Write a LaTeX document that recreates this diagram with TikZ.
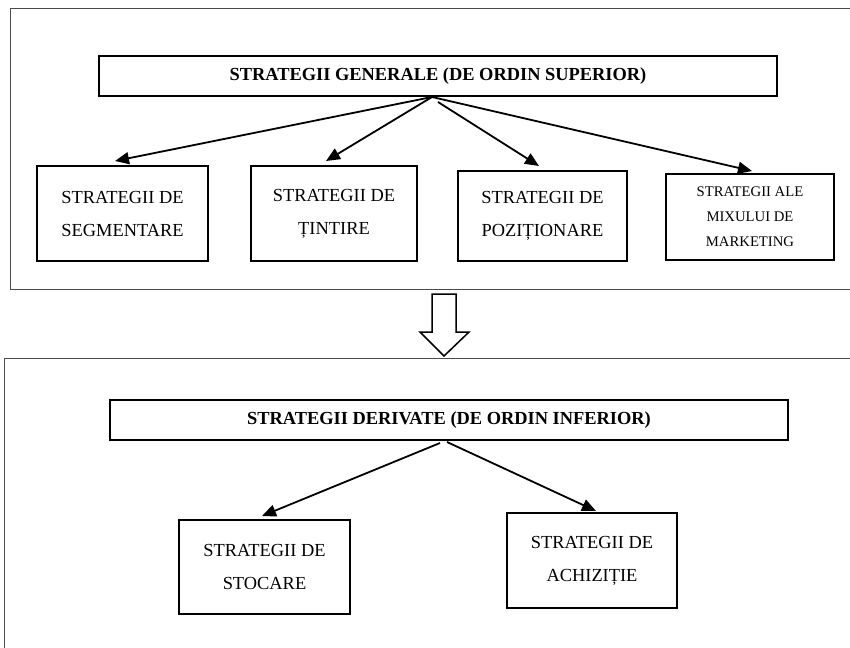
\documentclass[tikz,border=0pt]{standalone}
\usepackage{fontspec}
\setmainfont{Liberation Serif}
\usetikzlibrary{arrows.meta}

\begin{document}
\begin{tikzpicture}[x=1pt, y=-1pt,
    framing/.style={draw=black!70, line width=0.8pt},
    headbox/.style={draw, line width=2pt, inner sep=0pt, minimum width=678, minimum height=40,
      font=\fontsize{18.4}{22}\selectfont\bfseries},
    leafbox/.style={draw, line width=2pt, inner sep=0pt, align=center,
      font=\fontsize{18.4}{33}\selectfont},
    tip/.style={line width=1.8pt, -{Triangle[length=14pt, width=12pt]}}]
      \useasboundingbox (0,0) rectangle (850,647);

      % the two frames, open to the right
      \draw[framing] (851,8) -- (10,8) -- (10,289) -- (851,289);
      \draw[framing] (851,358) -- (4,358) -- (4,648);

      % upper level
      \node [headbox] (gen) at (438,76) {STRATEGII GENERALE (DE ORDIN SUPERIOR)};
      \node [leafbox, minimum width=171, minimum height=95] (seg) at (122.5,213.5) {STRATEGII DE\\SEGMENTARE};
      \node [leafbox, minimum width=166, minimum height=95] (tin) at (334,213.5) {STRATEGII DE\\ȚINTIRE};
      \node [leafbox, minimum width=169, minimum height=90] (poz) at (542.5,216) {STRATEGII DE\\POZIȚIONARE};
      \node [leafbox, minimum width=168, minimum height=86, font=\fontsize{14.7}{25}\selectfont] (mix) at (750,217)
        {STRATEGII ALE\\MIXULUI DE\\MARKETING};

      \coordinate (genfoot) at (432,97);
      \coordinate (genfootb) at (438,102);
      \draw[tip] (genfoot) -- ([xshift=-7.5pt, yshift=4pt]seg.north);
      \draw[tip] (genfoot) -- ([xshift=-8pt, yshift=4pt]tin.north);
      \draw[tip] (genfootb) -- ([xshift=-3.5pt, yshift=4pt]poz.north);
      \draw[tip] (genfoot) -- ([xshift=2pt, yshift=2pt]mix.north);

      % hollow arrow between the levels
      \draw[line width=1.5pt, line join=miter] (432,294) -- (456,294) -- (456,332) -- (469,332)
        -- (444,356) -- (420,332) -- (432,332) -- cycle;

      % lower level
      \node [headbox] (der) at (449,420) {STRATEGII DERIVATE (DE ORDIN INFERIOR)};
      \node [leafbox, minimum width=171, minimum height=94] (sto) at (264.5,567) {STRATEGII DE\\STOCARE};
      \node [leafbox, minimum width=170, minimum height=95] (ach) at (592,560.5) {STRATEGII DE\\ACHIZIȚIE};

      \coordinate (derfootl) at (440,443);
      \coordinate (derfootr) at (447,442);
      \draw[tip] (derfootl) -- ([xshift=-2.5pt, yshift=3pt]sto.north);
      \draw[tip] (derfootr) -- ([xshift=4pt, yshift=1pt]ach.north);
\end{tikzpicture}
\end{document}
